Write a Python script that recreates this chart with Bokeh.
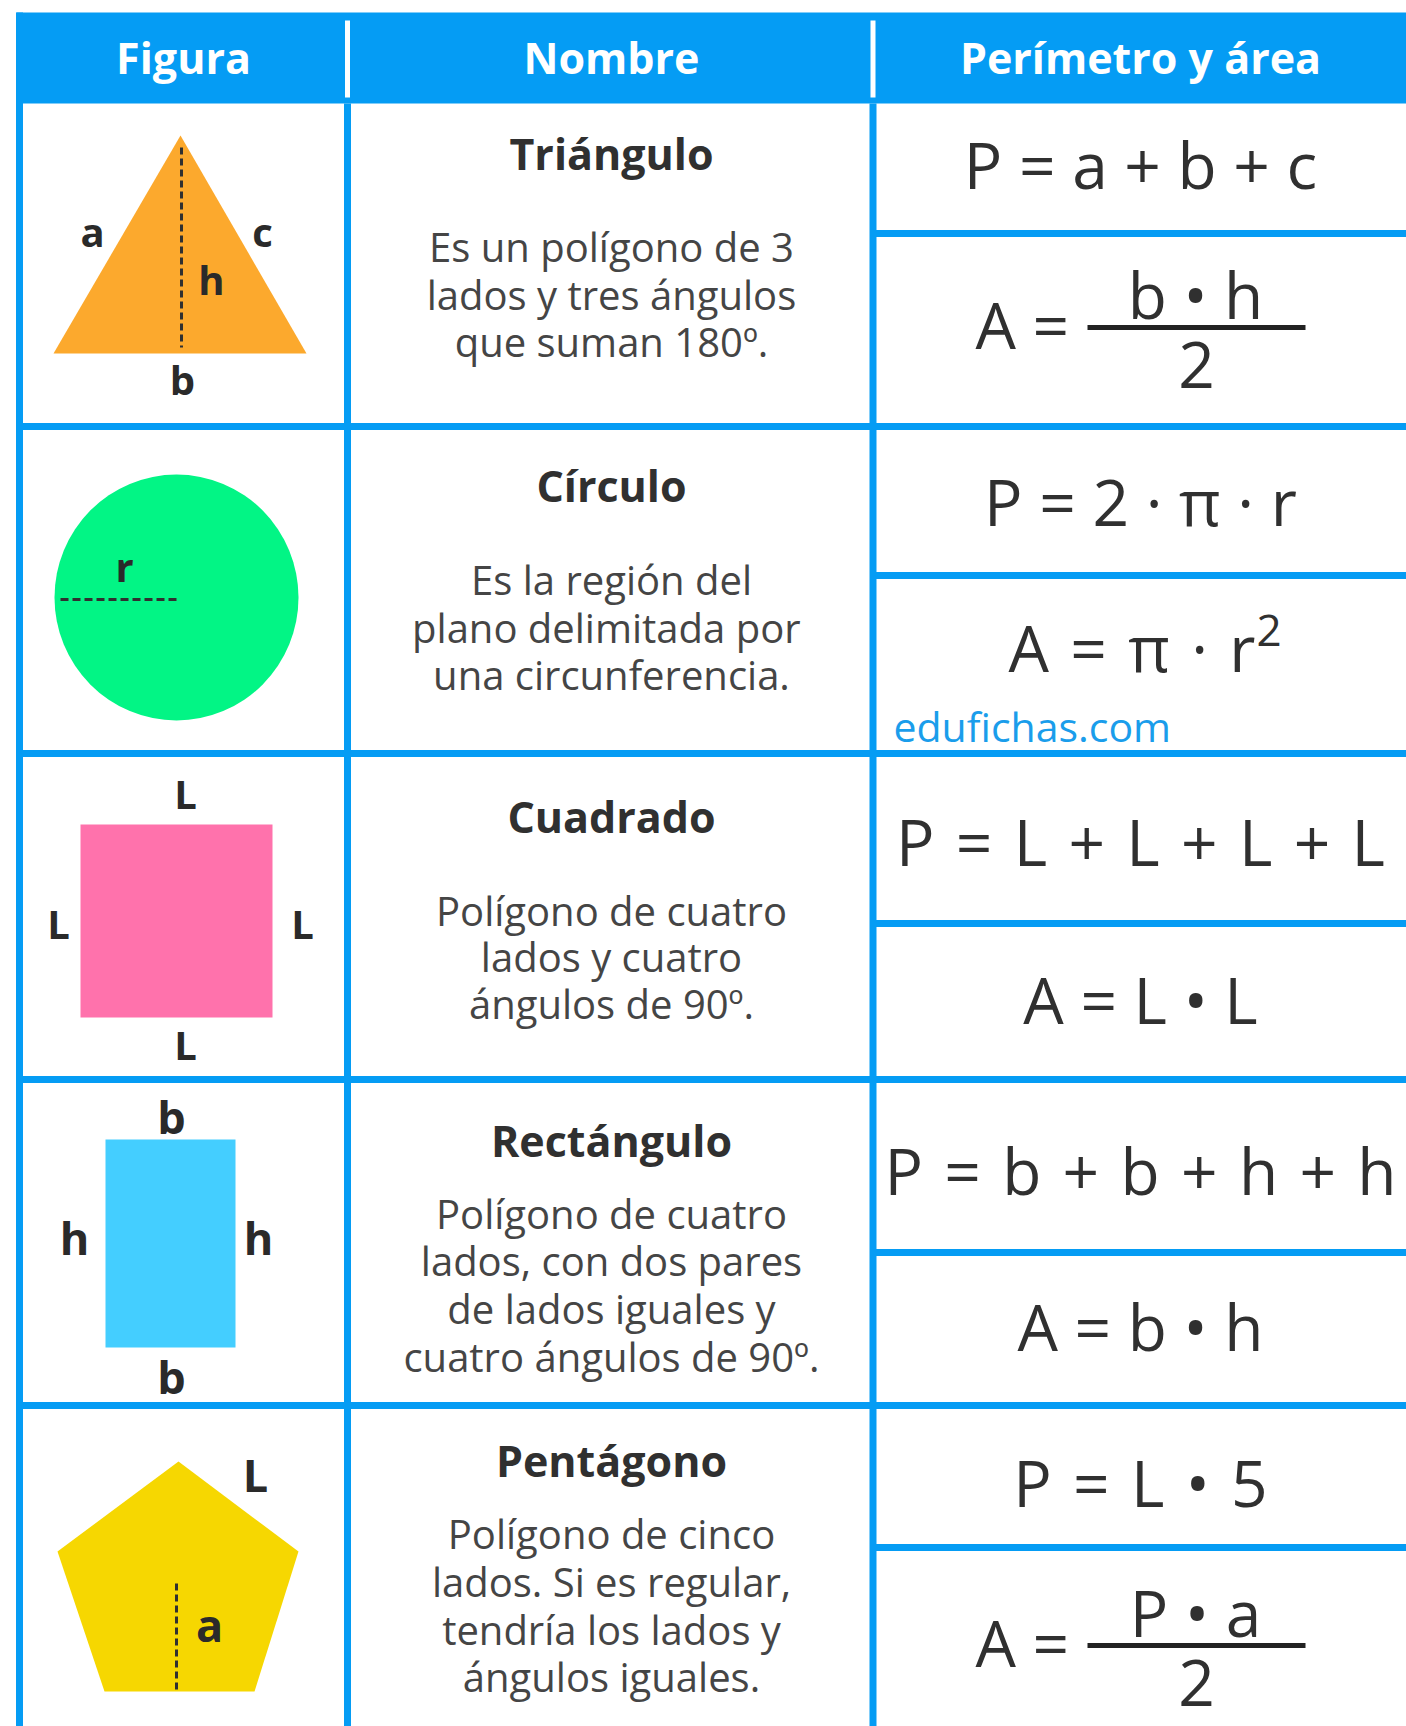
from bokeh.plotting import figure
from bokeh.models import Range1d
from bokeh.core.properties import value
from bokeh.embed import file_html
from bokeh.resources import INLINE

# ---------------- data ----------------
HEADERS = ["Figura", "Nombre", "Perímetro y área"]
NAMES = ["Triángulo", "Círculo", "Cuadrado", "Rectángulo", "Pentágono"]
DESCRIPTIONS = [
    ["Es un polígono de 3", "lados y tres ángulos", "que suman 180º."],
    ["Es la región del", "plano  delimitada por", "una circunferencia."],
    ["Polígono de cuatro", "lados y cuatro", "ángulos de 90º."],
    ["Polígono de cuatro", "lados, con dos pares", "de lados iguales y", "cuatro ángulos de 90º."],
    ["Polígono de cinco", "lados. Si es regular,", "tendría los lados y", "ángulos iguales."],
]
SP = "\u2004"  # slightly wider space used by the geometric formulas
PERIMETERS = ["P = a + b + c", "P = 2 · π · r",
              SP.join("P = L + L + L + L".split(" ")),
              SP.join("P = b + b + h + h".split(" ")),
              SP.join("P = L • 5".split(" "))]
AREA_SIMPLE = {2: "A = L • L", 3: "A = b • h"}
AREA_FRACTIONS = {0: ("b • h", "2"), 4: ("P • a", "2")}
CIRCLE_AREA = (SP.join("A = π · r".split(" ")), "2")
WATERMARK = "edufichas.com"

# ---------------- layout (page pixel coordinates) ----------------
W, H = 1406, 1726
BLUE = "#059CF4"
DARK = "#303030"
GREY = "#454545"
FONT = value("Open Sans")
SHIFT = 0.36  # em offset to land the alphabetic baseline where wanted


def bl(ys, size):
    return [y - SHIFT * size for y in ys]


TABLE_L, TABLE_R, TABLE_T, HEADER_B = 16, 1420, 12, 103
COL_DIV = [347, 872.5]
ROW_LINES = [426, 753, 1079, 1405]
SUB_LINES = [233, 575, 923, 1252, 1547]
BOTTOM = 1740

COL_CENTERS = [183, 611, 1140]
HEADER_BASE = 72
TITLE_BASE = [168, 500, 831, 1155, 1475]
DESC_BASE = [[260, 308, 355], [593, 641, 688], [924, 970, 1017],
             [1227, 1274, 1322, 1370], [1547, 1595, 1643, 1690]]
PER_BASE = [187, 524, 864, 1193, 1505]
AREA_BASE = {2: 1022, 3: 1349}

p = figure(width=W, height=H, x_range=Range1d(0, W), y_range=Range1d(H, 0),
           output_backend="svg", toolbar_location=None, min_border=0)
p.axis.visible = False
p.grid.visible = False
p.outline_line_color = None
p.background_fill_color = "white"
p.border_fill_color = "white"

# header band
p.quad(left=[TABLE_L], right=[TABLE_R], top=[TABLE_T], bottom=[HEADER_B],
       fill_color=BLUE, line_color=None)
p.segment(x0=COL_DIV, y0=[20, 20], x1=COL_DIV, y1=[97, 97], line_color="white", line_width=5)

# grid lines
p.segment(x0=[19], y0=[TABLE_T], x1=[19], y1=[BOTTOM], line_color=BLUE, line_width=7)
p.segment(x0=COL_DIV, y0=[HEADER_B] * 2, x1=COL_DIV, y1=[BOTTOM] * 2, line_color=BLUE, line_width=7)
p.segment(x0=[TABLE_L] * 4, y0=ROW_LINES, x1=[TABLE_R] * 4, y1=ROW_LINES, line_color=BLUE, line_width=7)
p.segment(x0=[COL_DIV[1]] * 5, y0=SUB_LINES, x1=[TABLE_R] * 5, y1=SUB_LINES, line_color=BLUE, line_width=7)

# header texts
p.text(x=COL_CENTERS, y=bl([HEADER_BASE] * 3, 43), text=HEADERS, text_align="center",
       text_baseline="alphabetic", text_font=FONT, text_font_style="bold",
       text_font_size="43px", text_color="white")

# names + descriptions
p.text(x=[611] * 5, y=bl(TITLE_BASE, 43), text=NAMES, text_align="center", text_baseline="alphabetic",
       text_font=FONT, text_font_style="bold", text_font_size="43px", text_color=DARK)
dx, dy, dt = [], [], []
for lines, bases in zip(DESCRIPTIONS, DESC_BASE):
    for t, b in zip(lines, bases):
        dx.append(611); dy.append(b); dt.append(t)
p.text(x=dx, y=bl(dy, 40), text=dt, text_align="center", text_baseline="alphabetic",
       text_font=FONT, text_font_size="40px", text_color=GREY)

# perimeter formulas
p.text(x=[1140] * 5, y=bl(PER_BASE, 64), text=PERIMETERS, text_align="center",
       text_baseline="alphabetic", text_font=FONT, text_font_size="64px", text_color=DARK)
ks = sorted(AREA_SIMPLE)
p.text(x=[1140] * len(ks), y=bl([AREA_BASE[k] for k in ks], 64), text=[AREA_SIMPLE[k] for k in ks],
       text_align="center", text_baseline="alphabetic", text_font=FONT, text_font_size="64px",
       text_color=DARK)
# circle area with superscript
p.text(x=[1008], y=bl([670], 64), text=[CIRCLE_AREA[0]], text_align="left", text_baseline="alphabetic",
       text_font=FONT, text_font_size="64px", text_color=DARK)
p.text(x=[1256], y=bl([646], 44), text=[CIRCLE_AREA[1]], text_align="left", text_baseline="alphabetic",
       text_font=FONT, text_font_size="44px", text_color=DARK)
# fraction area formulas
FRAC_BAR = {0: 327, 4: 1645}
for k, (num, den) in AREA_FRACTIONS.items():
    bar = FRAC_BAR[k]
    p.text(x=[975], y=bl([bar + 20], 64), text=["A ="], text_align="left", text_baseline="alphabetic",
           text_font=FONT, text_font_size="64px", text_color=DARK)
    p.segment(x0=[1087], y0=[bar], x1=[1305], y1=[bar], line_color="#222222", line_width=5)
    p.text(x=[1195], y=bl([bar - 10], 64), text=[num], text_align="center", text_baseline="alphabetic",
           text_font=FONT, text_font_size="64px", text_color=DARK)
    p.text(x=[1196], y=bl([bar + 61], 64), text=[den], text_align="center", text_baseline="alphabetic",
           text_font=FONT, text_font_size="64px", text_color=DARK)

# watermark
p.text(x=[893], y=bl([740], 41), text=[WATERMARK], text_align="left", text_baseline="alphabetic",
       text_font=FONT, text_font_size="41px", text_color="#1A9DEB")

# ---------------- figures ----------------
p.patch(x=[53, 180, 306], y=[353, 135, 353], fill_color="#FCA92D", line_color=None)
p.segment(x0=[181], y0=[147], x1=[181], y1=[347], line_color=DARK, line_width=3, line_dash="7 4")
p.ellipse(x=[176], y=[597], width=244, height=246, fill_color="#02F585", line_color=None)
p.segment(x0=[60], y0=[599], x1=[176], y1=[599], line_color=DARK, line_width=3, line_dash="8 4")
p.quad(left=[80], right=[272], top=[824], bottom=[1017], fill_color="#FF72AC", line_color=None)
p.quad(left=[105], right=[235], top=[1139], bottom=[1347], fill_color="#44CEFF", line_color=None)
p.patch(x=[178, 298, 254, 104, 57], y=[1461, 1551, 1691, 1691, 1551], fill_color="#F6D701",
        line_color=None)
p.segment(x0=[176], y0=[1583], x1=[176], y1=[1690], line_color=DARK, line_width=3, line_dash="7 4")

# figure labels
LAB40 = dict(x=[92, 262, 211, 182, 124, 185, 58, 302, 185],
             y=[245, 245, 293, 393, 580, 807, 937, 937, 1058],
             t=["a", "c", "h", "b", "r", "L", "L", "L", "L"])
p.text(x=LAB40["x"], y=bl(LAB40["y"], 40), text=LAB40["t"], text_align="center",
       text_baseline="alphabetic", text_font=FONT, text_font_style="bold", text_font_size="40px",
       text_color="#2A2A2A")
LAB46 = dict(x=[171, 74, 258, 171, 255, 209],
             y=[1132, 1253, 1253, 1392, 1490, 1640],
             t=["b", "h", "h", "b", "L", "a"])
p.text(x=LAB46["x"], y=bl(LAB46["y"], 45), text=LAB46["t"], text_align="center",
       text_baseline="alphabetic", text_font=FONT, text_font_style="bold", text_font_size="45px",
       text_color="#2A2A2A")

open("out.html", "w").write(file_html(p, INLINE))
